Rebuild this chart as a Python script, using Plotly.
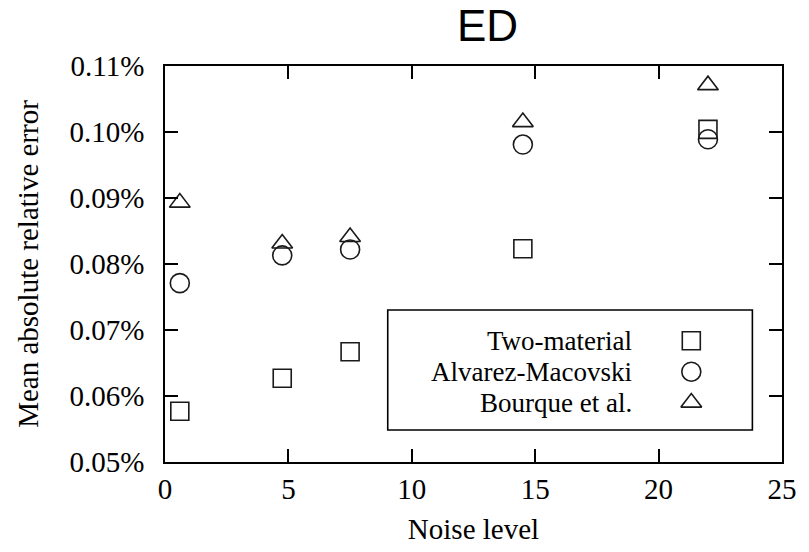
import plotly.graph_objects as go

# Data (noise level vs. mean absolute relative error, in %)
noise_level = [0.6, 4.75, 7.5, 14.5, 22.0]
two_material = [0.0577, 0.0627, 0.0667, 0.0823, 0.1004]
alvarez_macovski = [0.0771, 0.0813, 0.0822, 0.0981, 0.0989]
bourque = [0.0893, 0.0831, 0.0841, 0.1015, 0.1071]

series_names = ["Two-material", "Alvarez-Macovski", "Bourque et al."]
series_values = [two_material, alvarez_macovski, bourque]
symbols = ["square-open", "circle-open", "triangle-up-open"]
sizes = [18, 19, 18]

x_ticks = [0, 5, 10, 15, 20, 25]
y_ticks = [0.05, 0.06, 0.07, 0.08, 0.09, 0.10, 0.11]

SERIF = "'Liberation Serif', 'Times New Roman', Times, 'DejaVu Serif', serif"
FS = 29
LEG_FS = 27
INK = "#1a1a1a"

fig = go.Figure()
for name, vals, sym, sz in zip(series_names, series_values, symbols, sizes):
    fig.add_trace(go.Scatter(
        x=noise_level, y=vals, mode="markers", name=name, showlegend=False,
        marker=dict(symbol=sym, size=sz, color=INK, line=dict(width=1.6, color=INK)),
    ))

# Manual legend (text right-aligned, key to the right) on an overlay axis
leg_rows_y = [0.306, 0.228, 0.150]
leg_key_x = 0.853
leg_text_x = 0.760
for name, sym, sz, ly in zip(series_names, symbols, sizes, leg_rows_y):
    fig.add_trace(go.Scatter(
        x=[leg_key_x], y=[ly], xaxis="x2", yaxis="y2", mode="markers",
        showlegend=False, hoverinfo="skip",
        marker=dict(symbol=sym, size=sz, color=INK, line=dict(width=1.6, color=INK)),
    ))
    fig.add_annotation(x=leg_text_x, y=ly, xref="paper", yref="paper", text=name,
                       showarrow=False, xanchor="right", yanchor="middle",
                       font=dict(family=SERIF, size=LEG_FS, color="black"))

fig.add_shape(type="rect", xref="paper", yref="paper", x0=0.361, x1=0.952,
              y0=0.0808, y1=0.384, line=dict(color="black", width=1.6),
              fillcolor="rgba(0,0,0,0)")

fig.add_annotation(x=0.522, y=1.0, xref="paper", yref="paper", yshift=14,
                   text="ED", showarrow=False, xanchor="center", yanchor="bottom",
                   font=dict(family="'Liberation Sans', Arial, sans-serif", size=44, color="black"))

axis_common = dict(
    showline=True, linecolor="black", linewidth=1.6, mirror="ticks",
    ticks="inside", ticklen=13, tickwidth=1.6, tickcolor="black",
    showgrid=False, zeroline=False,
    tickfont=dict(family=SERIF, size=FS, color="black"),
)

fig.update_layout(
    width=809, height=552,
    margin=dict(l=165, r=23, t=66, b=90),
    paper_bgcolor="white", plot_bgcolor="white",
    showlegend=False,
    xaxis=dict(range=[0, 25], tickvals=x_ticks, ticktext=[str(v) for v in x_ticks],
               ticklabelstandoff=0,
               title=dict(text="Noise level", font=dict(family=SERIF, size=FS, color="black"),
                          standoff=15),
               **axis_common),
    yaxis=dict(range=[0.05, 0.11], tickvals=y_ticks,
               ticktext=[f"{v:.2f}%" for v in y_ticks],
               ticklabelstandoff=13,
               title=dict(text="Mean absolute relative error",
                          font=dict(family=SERIF, size=FS, color="black"), standoff=22),
               **axis_common),
    xaxis2=dict(range=[0, 1], overlaying="x", visible=False, fixedrange=True),
    yaxis2=dict(range=[0, 1], overlaying="y", visible=False, fixedrange=True),
)

fig.write_html("out.html")
